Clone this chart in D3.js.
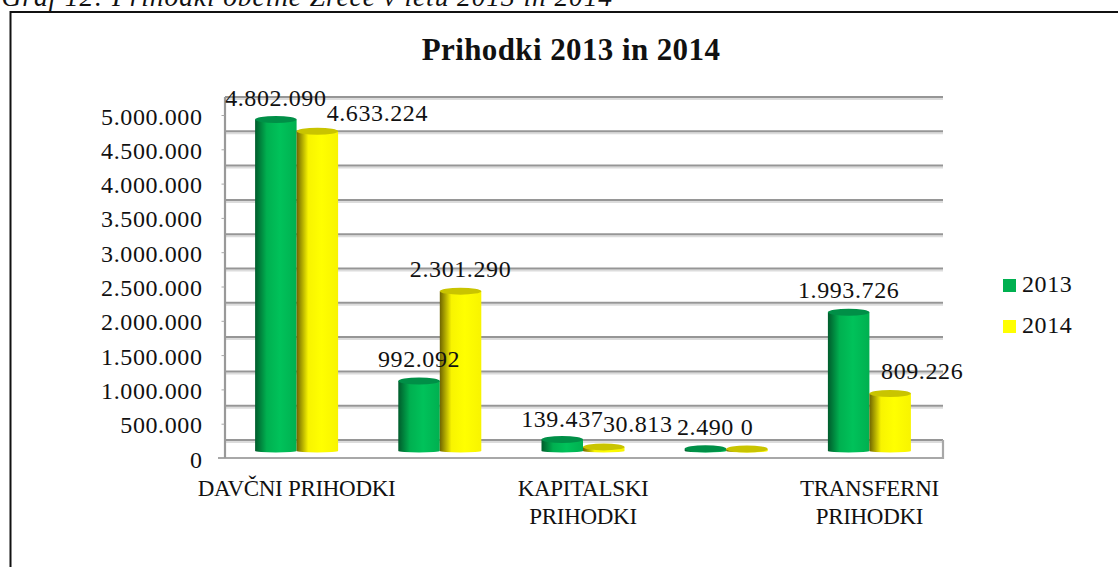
<!DOCTYPE html>
<html>
<head>
<meta charset="utf-8">
<script src="https://cdn.jsdelivr.net/npm/d3@7"></script>
<style>
  html, body { margin: 0; padding: 0; background: #fff; overflow: hidden; }
  svg { display: block; }
  text { font-family: "Liberation Serif", serif; fill: #111; }
</style>
</head>
<body>
<script>
var categories = ['DAVČNI PRIHODKI', 'NEDAVČNI PRIHODKI', 'KAPITALSKI PRIHODKI', 'PREJETE DONACIJE', 'TRANSFERNI PRIHODKI'];
var seriesNames = ['2013', '2014'];
var values2013 = [4802090, 992092, 139437, 2490, 1993726];
var values2014 = [4633224, 2301290, 30813, 0, 809226];
var valueTicks = [0, 500000, 1000000, 1500000, 2000000, 2500000, 3000000, 3500000, 4000000, 4500000, 5000000];

var width = 1118;
var height = 567;
var fontSize = 24;
var spacing = '0.6px';

var wallDepth = 18; // back wall sits this far above the front axis
var baseDepth = 9;  // cylinders stand half way
var ry = 3.5;

var y = d3.scaleLinear().domain([0, 5000000]).range([458, 115]);
var x0 = d3.scaleBand().domain(categories).range([225, 941]);
var barWidth = 41.5;
var floorRight = 943;

var numFormat = d3.formatLocale({ decimal: ',', thousands: '.', grouping: [3], currency: ['', ''] }).format(',d');

var colors = {
  '2013': { top: '#008f47', dark: '#005c2c', mid: '#00b050', light: '#00c25a' },
  '2014': { top: '#c9c400', dark: '#6e6400', mid: '#f8f400', light: '#ffff00' }
};

var svg = d3.select('body').append('svg').attr('width', width).attr('height', height);

var defs = svg.append('defs');
seriesNames.forEach(function (s) {
  var g = defs.append('linearGradient').attr('id', 'cyl' + s);
  g.append('stop').attr('offset', '0%').attr('stop-color', colors[s].dark);
  g.append('stop').attr('offset', '28%').attr('stop-color', colors[s].mid);
  g.append('stop').attr('offset', '60%').attr('stop-color', colors[s].light);
  g.append('stop').attr('offset', '100%').attr('stop-color', colors[s].mid);
});

// page caption, cut off by the top of the picture
svg.append('text')
  .attr('x', 613).attr('y', 6)
  .attr('text-anchor', 'end')
  .style('font-style', 'italic')
  .style('font-size', '27.5px')
  .style('letter-spacing', '0.9px')
  .text('Graf 12: Prihodki občine Zreče v letu 2013 in 2014');

// chart frame, runs off the picture right and bottom
svg.append('path')
  .attr('d', 'M' + 10.5 + ',' + height + 'V12H' + width)
  .attr('fill', 'none').attr('stroke', '#111').attr('stroke-width', 2);

svg.append('text')
  .attr('x', 571).attr('y', 60)
  .attr('text-anchor', 'middle')
  .style('font-weight', 'bold')
  .style('font-size', '31px')
  .style('letter-spacing', '0.4px')
  .text('Prihodki 2013 in 2014');

// grid on the back wall
var grid = svg.append('g');
grid.selectAll('line.shadow')
  .data(valueTicks)
  .enter().append('line')
  .attr('class', 'shadow')
  .attr('x1', 225).attr('x2', floorRight)
  .attr('y1', function (d) { return y(d) - wallDepth + 2; })
  .attr('y2', function (d) { return y(d) - wallDepth + 2; })
  .attr('stroke', '#dcdcdc').attr('stroke-width', 2);
grid.selectAll('line.major')
  .data(valueTicks)
  .enter().append('line')
  .attr('class', 'major')
  .attr('x1', 225).attr('x2', floorRight)
  .attr('y1', function (d) { return y(d) - wallDepth; })
  .attr('y2', function (d) { return y(d) - wallDepth; })
  .attr('stroke', '#969696').attr('stroke-width', 2);

// floor outline
svg.append('path')
  .attr('d', 'M' + floorRight + ',' + (y(0) - wallDepth) + 'V' + y(0) + 'H218')
  .attr('fill', 'none').attr('stroke', '#a8a8a8').attr('stroke-width', 2.2);
svg.append('path')
  .attr('d', 'M225,' + (y(5000000) - wallDepth) + 'V' + y(0))
  .attr('fill', 'none').attr('stroke', '#999').attr('stroke-width', 2.2);

// value axis
var yAxis = d3.axisLeft(y).tickValues(valueTicks).tickFormat(numFormat).tickSize(3).tickPadding(19);
var yG = svg.append('g').attr('transform', 'translate(224.5,0)').call(yAxis);
yG.select('.domain').remove();
yG.selectAll('.tick line').attr('stroke', '#a8a8a8');
yG.selectAll('.tick text')
  .attr('dy', null)
  .attr('y', 9)
  .style('font-size', fontSize + 'px')
  .style('letter-spacing', spacing)
  .style('font-family', '"Liberation Serif", serif')
  .attr('fill', '#111');

// category labels, every second one is dropped like in the original
var xAxis = d3.axisBottom(x0).tickSize(0).tickFormat(function () { return ''; });
var xG = svg.append('g').attr('transform', 'translate(0,' + y(0) + ')').call(xAxis);
xG.select('.domain').remove();
xG.selectAll('.tick').each(function (d, i) {
  if (i % 2) return;
  var t = d3.select(this).select('text')
    .attr('y', 38).attr('dy', null)
    .style('font-size', '23px')
    .style('letter-spacing', '-0.3px')
    .style('font-family', '"Liberation Serif", serif')
    .attr('fill', '#111');
  // the long names wrap in the narrow bands
  var lines = i === 0 ? [d] : d.split(' ');
  lines.forEach(function (line, k) {
    t.append('tspan').attr('x', 0).attr('dy', k ? 28 : 0).text(line);
  });
});

function cylinder(cx, top, base, w) {
  var r = w / 2;
  return 'M' + (cx - r) + ',' + top +
    'V' + (base + 2) +
    'A' + r + ',1.5 0 0 0 ' + (cx + r) + ',' + (base + 2) +
    'V' + top +
    'Z';
}

var bars = [];
categories.forEach(function (c, i) {
  bars.push({ cat: c, s: '2013', v: values2013[i], i: i });
  bars.push({ cat: c, s: '2014', v: values2014[i], i: i });
});

function barX(d) {
  var mid = x0(d.cat) + x0.bandwidth() / 2;
  return d.s === '2013' ? mid - barWidth / 2 : mid + barWidth / 2;
}
function barTop(d) { return y(d.v) - baseDepth; }

var barG = svg.append('g');
barG.selectAll('path')
  .data(bars)
  .enter().append('path')
  .attr('d', function (d) { return cylinder(barX(d), barTop(d), y(0) - baseDepth, barWidth); })
  .attr('fill', function (d) { return 'url(#cyl' + d.s + ')'; });
barG.selectAll('ellipse')
  .data(bars)
  .enter().append('ellipse')
  .attr('cx', barX)
  .attr('cy', barTop)
  .attr('rx', barWidth / 2)
  .attr('ry', ry)
  .attr('fill', function (d) { return colors[d.s].top; });

// labels that were dragged off their bar in the original: [category, series, dx, dy]
var labelNudges = [[0, '2014', 60, 4], [2, '2013', 0, 2], [2, '2014', 34, -1], [4, '2014', 32, 0]];

function nudge(d) {
  return labelNudges.filter(function (m) { return m[0] === d.i && m[1] === d.s; })[0] || [0, '', 0, 0];
}

svg.append('g').selectAll('text')
  .data(bars)
  .enter().append('text')
  .attr('x', function (d) { return barX(d) + nudge(d)[2]; })
  .attr('y', function (d) { return barTop(d) - 14 + nudge(d)[3]; })
  .attr('text-anchor', 'middle')
  .style('font-size', fontSize + 'px')
  .style('letter-spacing', spacing)
  .text(function (d) { return numFormat(d.v); });

// legend
var legend = svg.append('g').selectAll('g')
  .data(seriesNames)
  .enter().append('g')
  .attr('transform', function (d, i) { return 'translate(1003,' + (279 + i * 41) + ')'; });
legend.append('rect')
  .attr('width', 13).attr('height', 13)
  .attr('fill', function (d) { return d === '2013' ? colors[d].mid : colors[d].light; });
legend.append('text')
  .attr('x', 19).attr('y', 13)
  .style('font-size', fontSize + 'px')
  .style('letter-spacing', spacing)
  .text(function (d) { return d; });
</script>
</body>
</html>
